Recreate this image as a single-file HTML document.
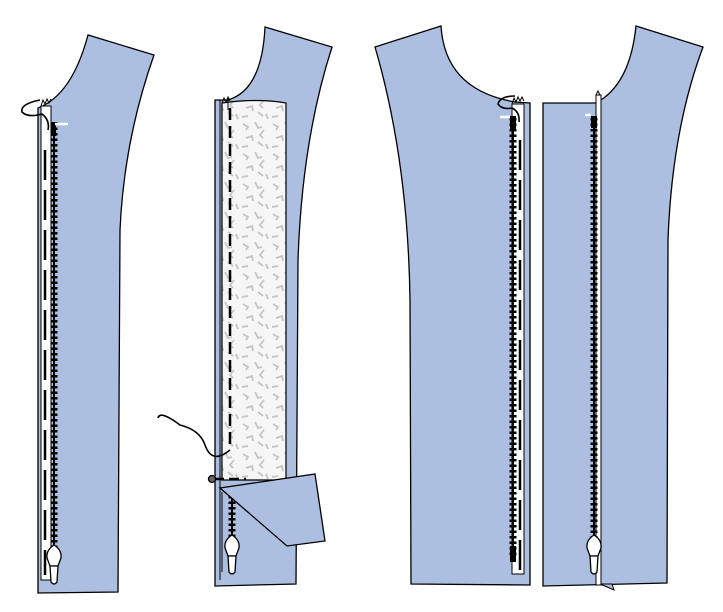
<!DOCTYPE html>
<html><head><style>html,body{margin:0;padding:0;background:#fff}svg{display:block}</style></head>
<body>
<svg width="723" height="612" viewBox="0 0 723 612" xmlns="http://www.w3.org/2000/svg">
<defs>
<pattern id="speck" width="30" height="30" patternUnits="userSpaceOnUse">
<rect width="30" height="30" fill="#f6f6f6"/>
<path d="M3 4l5 3-2 3M15 2l3 6 4-1M24 10l-4 5 3 3M6 18l6-2 1 5M18 22l5 4M2 27l6-1M26 24l2 5" stroke="#c4c4c4" stroke-width="1.8" fill="none"/>
</pattern>
<g id="pull">
<path d="M-7 8 Q-8 0 0 -5 Q8 0 7 8 L4 16 L-4 16 Z" fill="#fff" stroke="#000" stroke-width="1.3"/>
<path d="M-4 16 L4 16 L3 32 Q0 36 -3 32 Z" fill="#fff" stroke="#000" stroke-width="1.3"/>
</g>
</defs>
<g stroke="#000" stroke-width="1.3">
<!-- piece 1 -->
<path d="M38 108 Q72 95 88 35 L154 55 Q124 140 120 230 L118 592 L38 593 Z" fill="#adbfe1"/>
<rect x="41" y="106" width="10" height="474" fill="#fff" stroke="#000" stroke-width="1"/>
<path d="M41 106 l2 -6 2 4 2 -5 2 4 2 -4" fill="none" stroke-width="1"/>
<line x1="45" y1="150" x2="45" y2="575" stroke-width="2.5" stroke-dasharray="30 10"/>
<line x1="54" y1="122" x2="54" y2="552" stroke-width="2"/>
<line x1="54" y1="122" x2="54" y2="552" stroke-width="7" stroke-dasharray="2.5 3"/>
<rect x="51" y="122" width="5" height="14" fill="#000" stroke="none"/>
<line x1="55" y1="124" x2="68" y2="124" stroke="#fff" stroke-width="2.5"/>
<path d="M40 100 Q20 104 22 112 Q28 118 42 114 Q50 120 48 130" fill="none" stroke-width="1.6"/>
<use href="#pull" x="54" y="550"/>
<!-- piece 2 -->
<path d="M215 100 L228 100 Q262 90 265 27 L332 47 Q302 140 298 260 L296 584 L215 586 Z" fill="#adbfe1"/>
<path d="M222 103 Q258 98 286 103 L286 480 L222 480 Z" fill="url(#speck)" stroke-width="1.2"/>
<line x1="220" y1="100" x2="220" y2="580" stroke-width="1"/>
<path d="M222 103 l2 -5 2 4 2 -5 2 4" fill="none" stroke-width="1"/>
<line x1="228" y1="98" x2="228" y2="110" stroke-width="1"/>
<line x1="230" y1="108" x2="230" y2="450" stroke-width="2.5" stroke-dasharray="12 6"/>
<path d="M158 418 Q160 410 180 425 Q200 430 205 445 Q212 465 230 450" fill="none" stroke-width="1.6"/>
<line x1="214" y1="479" x2="246" y2="479" stroke-width="2.5" stroke-dasharray="10 5"/>
<circle cx="212" cy="479" r="3.5" fill="#666"/>
<line x1="222" y1="492" x2="222" y2="572" stroke-width="1"/>
<line x1="232" y1="496" x2="232" y2="540" stroke-width="2"/>
<line x1="232" y1="496" x2="232" y2="540" stroke-width="7" stroke-dasharray="2.5 3"/>
<path d="M220 488 L315 474 L325 541 L287 546 Z" fill="#adbfe1"/>
<use href="#pull" x="232" y="540"/>
<!-- piece 3 -->
<path d="M375 47 L441 26 Q445 90 515 102 L530 103 L530 585 L411 584 L410 300 Q408 160 375 47 Z" fill="#adbfe1"/>
<rect x="512" y="104" width="12" height="470" fill="#fff" stroke="#000" stroke-width="1"/>
<path d="M512 104 l2 -6 2 4 2 -5 2 4 2 -4 2 4" fill="none" stroke-width="1"/>
<line x1="520" y1="140" x2="520" y2="578" stroke-width="2.5" stroke-dasharray="30 10"/>
<line x1="513" y1="118" x2="513" y2="558" stroke-width="2"/>
<line x1="513" y1="118" x2="513" y2="558" stroke-width="7" stroke-dasharray="2.5 3"/>
<rect x="510" y="116" width="6" height="14" fill="#000" stroke="none"/>
<rect x="510" y="546" width="6" height="16" fill="#000" stroke="none"/>
<line x1="500" y1="117" x2="510" y2="117" stroke="#fff" stroke-width="2.5"/>
<path d="M515 96 Q500 96 498 104 Q502 110 512 108 Q520 112 519 122" fill="none" stroke-width="1.6"/>
<!-- piece 4 -->
<path d="M543 103 L596 103 Q630 85 636 26 L703 47 Q672 130 668 240 L667 583 L543 586 Z" fill="#adbfe1"/>
<path d="M600 584 L614 590 L612 584 Z" fill="#adbfe1" stroke-width="1"/>
<rect x="596" y="95" width="5" height="490" fill="#fff" stroke="#000" stroke-width="1"/>
<path d="M596 95 l2 -4 2 4" fill="none" stroke-width="1"/>
<line x1="594" y1="118" x2="594" y2="538" stroke-width="2"/>
<line x1="594" y1="118" x2="594" y2="538" stroke-width="7" stroke-dasharray="2.5 3"/>
<rect x="591" y="116" width="6" height="12" fill="#000" stroke="none"/>
<line x1="585" y1="115" x2="591" y2="115" stroke="#fff" stroke-width="2.5"/>
<use href="#pull" x="594" y="540"/>
</g>
</svg>
</body></html>
